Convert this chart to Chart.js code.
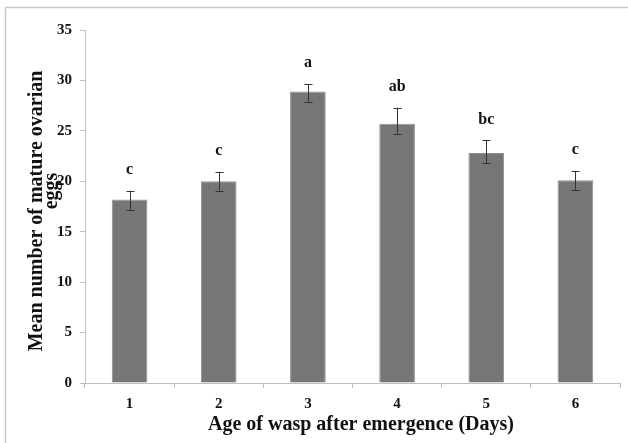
<!DOCTYPE html>
<html>
<head>
<meta charset="utf-8">
<script src="https://cdn.jsdelivr.net/npm/chart.js@4.4.1/dist/chart.umd.min.js"></script>
<style>
  html, body { margin: 0; padding: 0; background: #ffffff; }
  #wrap { position: relative; width: 628px; height: 443px; }
</style>
</head>
<body>
<div id="wrap"><canvas id="chart" width="628" height="443"></canvas></div>
<script>
// Age of wasp (days) and mean number of mature ovarian eggs
const days = ['1', '2', '3', '4', '5', '6'];
const meanEggs = [18.2, 20.0, 28.9, 25.7, 22.8, 20.1];
const errPlus = [0.85, 0.95, 0.75, 1.6, 1.25, 0.9];
const errMinus = [1.0, 0.95, 1.0, 1.0, 1.0, 1.0];
const groupLetters = ['c', 'c', 'a', 'ab', 'bc', 'c'];
const yTicks = [0, 5, 10, 15, 20, 25, 30, 35];

const SERIF = '"Liberation Serif", "Times New Roman", serif';
const AXIS_GREY = '#bfbfbf';

// Outer frame, error bars, significance letters and axis titles
const decorations = {
  id: 'decorations',
  beforeDraw(chart) {
    const ctx = chart.ctx;
    ctx.save();
    ctx.strokeStyle = '#c8c8c8';
    ctx.lineWidth = 1.5;
    ctx.beginPath();
    ctx.moveTo(5.5, 460);
    ctx.lineTo(5.5, 7.5);
    ctx.lineTo(640, 7.5);
    ctx.stroke();
    ctx.restore();
  },
  afterDatasetsDraw(chart) {
    const ctx = chart.ctx;
    const meta = chart.getDatasetMeta(0);
    const y = chart.scales.y;
    ctx.save();
    ctx.strokeStyle = '#333333';
    ctx.lineWidth = 1;
    meta.data.forEach((bar, i) => {
      const v = meanEggs[i];
      const top = y.getPixelForValue(v + errPlus[i]);
      const bot = y.getPixelForValue(v - errMinus[i]);
      const x = Math.round(bar.x) + 0.5;
      ctx.beginPath();
      ctx.moveTo(x, top); ctx.lineTo(x, bot);
      ctx.moveTo(x - 4, Math.round(top) + 0.5); ctx.lineTo(x + 4, Math.round(top) + 0.5);
      ctx.moveTo(x - 4, Math.round(bot) + 0.5); ctx.lineTo(x + 4, Math.round(bot) + 0.5);
      ctx.stroke();

      ctx.fillStyle = '#111111';
      ctx.font = 'bold 16px ' + SERIF;
      ctx.textAlign = 'center';
      ctx.textBaseline = 'middle';
      ctx.fillText(groupLetters[i], bar.x, top - 21);
    });
    ctx.restore();
  },
  afterDraw(chart) {
    const ctx = chart.ctx;
    ctx.save();
    ctx.fillStyle = '#111111';
    ctx.font = 'bold 20px ' + SERIF;
    ctx.textAlign = 'center';
    ctx.textBaseline = 'middle';
    // x-axis title
    ctx.fillText('Age of wasp after emergence (Days)', 361, 425);
    // y-axis title, two lines
    ctx.translate(37, 211);
    ctx.rotate(-Math.PI / 2);
    ctx.fillText('Mean number of mature ovarian', 0, 0);
    ctx.fillText('eggs', 20, 15);
    ctx.restore();
  }
};

new Chart(document.getElementById('chart'), {
  type: 'bar',
  data: {
    labels: days,
    datasets: [{
      data: meanEggs,
      backgroundColor: '#767676',
      borderColor: '#8e8e8e',
      borderWidth: 1,
      barPercentage: 0.4,
      categoryPercentage: 1.0
    }]
  },
  options: {
    responsive: false,
    animation: false,
    layout: { padding: { left: 15, right: 8, top: 30, bottom: 0 } },
    plugins: { legend: { display: false }, tooltip: { enabled: false } },
    scales: {
      x: {
        grid: { display: true, drawOnChartArea: false, drawTicks: true, tickLength: 5, color: AXIS_GREY, offset: true },
        border: { display: true, color: AXIS_GREY, width: 1 },
        ticks: { color: '#111111', font: { family: SERIF, size: 15, weight: 'bold' }, padding: 7 },
        afterFit(s) { s.height = 60; }
      },
      y: {
        min: 0,
        max: 35,
        afterBuildTicks(s) { s.ticks = yTicks.map(v => ({ value: v })); },
        grid: { display: true, drawOnChartArea: false, drawTicks: true, tickLength: 5, color: AXIS_GREY },
        border: { display: true, color: AXIS_GREY, width: 1 },
        ticks: { color: '#111111', font: { family: SERIF, size: 15, weight: 'bold' }, padding: 8 },
        afterFit(s) { s.width = 70; }
      }
    }
  },
  plugins: [decorations]
});
</script>
</body>
</html>
